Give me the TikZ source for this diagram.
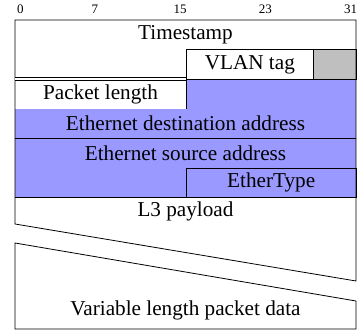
\documentclass[tikz,border=0pt]{standalone}
\usepackage{fontspec}
\setmainfont{Liberation Serif}
\usetikzlibrary{positioning}
\definecolor{FieldBlue}{RGB}{153,153,255}
\definecolor{FieldGrey}{RGB}{191,191,191}
\tikzset{
  % testo dei campi
  fieldtext/.style={font=\fontsize{21.2}{24}\selectfont,inner sep=0pt},
  bitnum/.style={font=\fontsize{13}{15}\selectfont,inner sep=0pt},
  % caselle dei campi
  field/.style={fieldtext,draw,line width=0.8pt,minimum height=29.5pt,anchor=north west},
  edge/.style={line width=0.8pt}
}

\begin{document}
\begin{tikzpicture}[x=1pt,y=1pt]
        \useasboundingbox (0,0) rectangle (357,333);
        % numeri dei bit
        \foreach \b in {0,7,15,23,31}
          \node[bitnum] (b\b) at ({15+(\b+0.5)*10.656},324) {\b};
        % indirizzi ethernet
        \fill[FieldBlue] (15,136) rectangle (356,254);
        \node[fieldtext] (ts) at (185.5,298.25) {Timestamp};
        \node[field,minimum width=127.9pt] (vlan) at (185.5,283.5) {VLAN tag};
        \node[field,fill=FieldGrey,minimum width=42.6pt] (pad) at (313.4,283.5) {};
        \node[fieldtext,fill=white,minimum width=170.5pt,minimum height=29.5pt,anchor=north west] (plen) at (15,254) {Packet length};
        \draw[edge] (plen.north east) -- (plen.south east);
        \node[fieldtext] (dst) at (185.5,209.75) {Ethernet destination address};
        \node[fieldtext] (src) at (185.5,180.25) {Ethernet source address};
        \node[field,minimum width=170.5pt] (etype) at (185.5,165.5) {EtherType};
        \node[fieldtext] (l3) at (185.5,121.25) {L3 payload};
        \node[fieldtext] (var) at (185.5,23) {Variable length packet data};
        % bordi
        \draw[edge] (15,109) -- (15,313) -- (356,313) -- (356,52) -- cycle;
        \draw[edge] (15,90) -- (15,4) -- (356,4) -- (356,32) -- cycle;
        \draw[edge] (185.5,254) -- (356,254);
        \draw[edge,double,double distance=1.6pt] (15,254) -- (185.5,254);
        \draw[edge] (15,195) -- (356,195);
        \draw[edge] (15,136) -- (356,136);
      \end{tikzpicture}
\end{document}
